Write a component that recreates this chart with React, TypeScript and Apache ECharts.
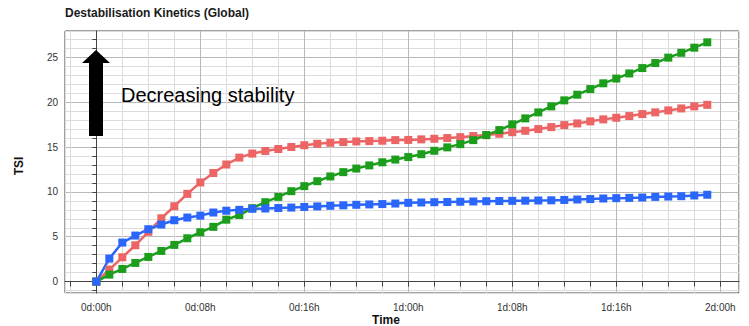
import React, { useEffect, useRef } from "react";
import * as echarts from "echarts";

const hours = [0, 1, 2, 3, 4, 5, 6, 7, 8, 9, 10, 11, 12, 13, 14, 15, 16, 17, 18, 19, 20, 21, 22, 23, 24, 25, 26, 27, 28, 29, 30, 31, 32, 33, 34, 35, 36, 37, 38, 39, 40, 41, 42, 43, 44, 45, 46, 47];

const redSeries = [0, 1.34, 2.71, 4.05, 5.55, 7.06, 8.4, 9.78, 11.05, 12.1, 13.05, 13.82, 14.27, 14.56, 14.78, 15.0, 15.2, 15.36, 15.47, 15.55, 15.62, 15.66, 15.7, 15.77, 15.79, 15.85, 15.92, 16.0, 16.1, 16.22, 16.33, 16.48, 16.65, 16.81, 17.0, 17.22, 17.44, 17.63, 17.86, 18.08, 18.26, 18.45, 18.67, 18.86, 19.08, 19.3, 19.53, 19.7];

const greenSeries = [0, 0.78, 1.41, 2.08, 2.75, 3.42, 4.09, 4.83, 5.5, 6.1, 6.9, 7.42, 8.18, 8.85, 9.44, 10.08, 10.64, 11.19, 11.72, 12.2, 12.6, 12.95, 13.3, 13.6, 13.88, 14.2, 14.58, 14.96, 15.32, 15.77, 16.33, 16.89, 17.53, 18.19, 18.86, 19.53, 20.2, 20.83, 21.46, 22.1, 22.63, 23.2, 23.8, 24.36, 24.96, 25.5, 26.07, 26.67];

const blueSeries = [0, 2.57, 4.35, 5.13, 5.84, 6.36, 6.84, 7.14, 7.35, 7.7, 7.9, 8.0, 8.12, 8.15, 8.2, 8.25, 8.32, 8.38, 8.45, 8.5, 8.56, 8.6, 8.64, 8.7, 8.78, 8.82, 8.85, 8.87, 8.9, 8.93, 8.96, 8.98, 9.0, 9.02, 9.04, 9.06, 9.1, 9.15, 9.2, 9.26, 9.3, 9.33, 9.37, 9.44, 9.48, 9.52, 9.6, 9.68];

const seriesDefs = [
  { name: "Sample A", color: "#ec6464", values: redSeries },
  { name: "Sample B", color: "#1c9e1c", values: greenSeries },
  { name: "Sample C", color: "#2b66fb", values: blueSeries },
];

const xAxisTitle = "Time";
const yAxisTitle = "TSI";
const chartTitle = "Destabilisation Kinetics (Global)";
const annotation = "Decreasing stability";

const FONT = "'Liberation Sans', Arial, sans-serif";
const MINOR = "#dcdcdc";
const MAJOR = "#b8b8b8";

function fmtTime(v: number): string {
  if (Math.abs(v - Math.round(v)) > 1e-6) return "";
  const h = Math.round(v);
  if (h < 0 || h % 8 !== 0) return "";
  const d = Math.floor(h / 24);
  const hh = h % 24;
  return `${d}d:${hh < 10 ? "0" + hh : hh}h`;
}

function fmtTsi(v: number): string {
  if (Math.abs(v - Math.round(v)) > 1e-6) return "";
  const r = Math.round(v);
  return r % 5 === 0 ? String(r) : "";
}

export default function App() {
  const ref = useRef<HTMLDivElement>(null);
  useEffect(() => {
    if (!ref.current) return;
    const chart = echarts.init(ref.current, undefined, { renderer: "svg" });
    chart.setOption({
      animation: false,
      backgroundColor: "#ffffff",
      title: {
        text: chartTitle,
        left: 60,
        top: 2,
        textStyle: { fontSize: 12, fontWeight: "bold", fontFamily: FONT, color: "#1a1a1a" },
      },
      grid: {
        left: 65,
        right: 10,
        top: 31,
        bottom: 33,
        outerBoundsMode: "none",
        containLabel: false,
        show: true,
        borderColor: "#444",
        borderWidth: 1,
        backgroundColor: "transparent",
      },
      xAxis: {
        type: "value",
        min: -2.41,
        max: 49.44,
        minInterval: 2,
        maxInterval: 2,
        axisLine: { show: true, lineStyle: { color: "#444", width: 1 } },
        axisTick: { show: true, length: 5, lineStyle: { color: "#444" } },
        axisLabel: { formatter: fmtTime, fontSize: 10, fontFamily: FONT, color: "#333", margin: 9, showMinLabel: false, showMaxLabel: false },
        splitLine: { show: true, lineStyle: { color: [MINOR, MINOR, MAJOR, MINOR], width: 1 } },
      },
      yAxis: {
        type: "value",
        min: -1.27,
        max: 27.93,
        minInterval: 1,
        maxInterval: 1,
        name: yAxisTitle,
        nameLocation: "middle",
        nameGap: 40,
        nameRotate: 90,
        nameMoveOverlap: false,
        nameTextStyle: { fontSize: 12, fontWeight: "bold", fontFamily: FONT, color: "#111", padding: [0, 8, 0, 0] },
        axisLine: { show: true, lineStyle: { color: "#444", width: 1 } },
        axisTick: { show: true, length: 4, lineStyle: { color: "#444" } },
        axisLabel: { formatter: fmtTsi, fontSize: 10, fontFamily: FONT, color: "#333", margin: 7, showMinLabel: false, showMaxLabel: false },
        splitLine: { show: true, lineStyle: { color: [MINOR, MINOR, MAJOR, MINOR, MINOR], width: 1 } },
      },
      graphic: [
        {
          type: "polygon",
          shape: {
            points: [
              [82, 63],
              [96, 50],
              [110, 63],
              [103, 63],
              [103, 136],
              [89, 136],
              [89, 63],
            ],
          },
          style: { fill: "#000" },
          z: 10,
        },
        {
          type: "text",
          x: 121,
          y: 95,
          style: {
            text: annotation,
            font: `20px ${FONT}`,
            fill: "#000",
            verticalAlign: "middle",
            align: "left",
          },
          z: 10,
        },
        {
          type: "text",
          x: 386,
          y: 319.5,
          style: {
            text: xAxisTitle,
            font: `bold 12px ${FONT}`,
            fill: "#111",
            verticalAlign: "middle",
            align: "center",
          },
          z: 10,
        },
      ],
      series: seriesDefs.map((s) => ({
        name: s.name,
        type: "line",
        data: hours.map((h, i) => [h, s.values[i]]),
        symbol: "rect",
        symbolSize: 8,
        showSymbol: true,
        lineStyle: { color: s.color, width: 2.5 },
        itemStyle: { color: s.color },
        z: 3,
      })),
    });
    return () => chart.dispose();
  }, []);
  return (
    <div
      ref={ref}
      style={{ position: "absolute", left: 0, top: 0, width: 749, height: 326, overflow: "hidden" }}
    />
  );
}
